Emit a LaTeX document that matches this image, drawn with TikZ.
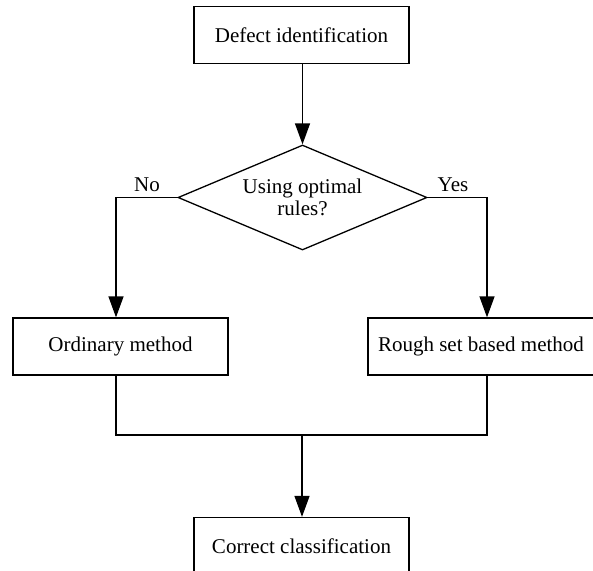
\documentclass[tikz,border=0pt]{standalone}
\usepackage{fontspec}
\setmainfont{Liberation Serif}
\usetikzlibrary{shapes.geometric,arrows.meta}
\begin{document}
\begin{tikzpicture}[x=1pt,y=-1pt,
  every node/.style={font=\fontsize{21}{22}\selectfont},
  procbox/.style={draw,line width=1.3pt,minimum width=215pt,minimum height=57pt,inner sep=0pt},
  decision/.style={draw,line width=1.3pt,shape=diamond,aspect=2.37,inner sep=0pt,minimum width=249pt,minimum height=105pt,align=center},
  conn/.style={line width=1.3pt},
  arr/.style={conn,-{Triangle[length=21pt,width=15pt]}}]
\path[use as bounding box,clip] (0,0) rectangle (593,570);
\node[procbox] (top) at (301.5,34.75) {Defect identification};
\node[decision] (dec) at (302.5,197.5) {Using optimal\\rules?};
\node[procbox] (ord) at (120.5,346.5) {Ordinary method};
\node[procbox,minimum width=226pt] (rough) at (481,346.5) {Rough set based method};
\node[procbox] (bot) at (301.5,546) {Correct classification};
\node (no) at (147,185) {No};
\node (yes) at (453,185) {Yes};
\coordinate (nl) at (116,197.5);
\coordinate (nr) at (487,197.5);
\coordinate (mid) at (302,435);
\draw[arr] (top.south -| dec.north) -- (dec.north);
\draw[arr] (dec.west) -- (nl) -- (nl |- ord.north);
\draw[arr] (dec.east) -- (nr) -- (nr |- rough.north);
\draw[conn] (nl |- ord.south) -- (nl |- mid) -- (nr |- mid) -- (nr |- rough.south);
\draw[arr] (mid) -- (mid |- bot.north);
\end{tikzpicture}
\end{document}
